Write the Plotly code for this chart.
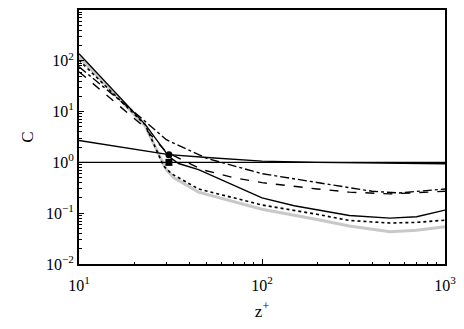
import plotly.graph_objects as go

# ---- data ----
z_flat = [10, 1000]
c_flat = [1.0, 1.0]

z_near1 = [10, 31, 50, 100, 200, 500, 1000]
c_near1 = [2.7, 1.42, 1.25, 1.06, 1.0, 0.96, 0.94]

z_solid = [10, 23, 31, 35, 45, 60, 100, 150, 200, 300, 500, 700, 1000]
c_solid = [138, 5.6, 1.3, 0.95, 0.72, 0.45, 0.2, 0.14, 0.115, 0.09, 0.08, 0.085, 0.115]

z_dot = [10, 23, 29, 32, 45, 70, 100, 200, 300, 500, 700, 1000]
c_dot = [103, 5.5, 0.85, 0.6, 0.3, 0.2, 0.145, 0.095, 0.072, 0.064, 0.066, 0.073]

z_grey = [10, 23, 30, 33, 45, 70, 100, 200, 300, 500, 700, 1000]
c_grey = [120, 5.2, 0.72, 0.5, 0.26, 0.17, 0.12, 0.075, 0.056, 0.043, 0.046, 0.054]

z_dash = [10, 22, 30, 47, 70, 100, 200, 300, 500, 700, 1000]
c_dash = [61, 5.5, 1.6, 0.72, 0.5, 0.4, 0.3, 0.26, 0.24, 0.25, 0.27]

z_dashdot = [10, 21, 30, 50, 100, 200, 400, 560, 1000]
c_dashdot = [76, 8.5, 2.8, 1.2, 0.6, 0.4, 0.27, 0.25, 0.30]

z_markers = [31, 31]
c_markers = [1.42, 1.0]
marker_symbols = ["circle", "square"]

x_tickvals = [10, 100, 1000]
x_ticktext = ["10<sup>1</sup>", "10<sup>2</sup>", "10<sup>3</sup>"]
y_tickvals = [0.01, 0.1, 1, 10, 100, 1000]
y_ticktext = ["10<sup>\u22122</sup>", "10<sup>\u22121</sup>", "10<sup>0</sup>",
              "10<sup>1</sup>", "10<sup>2</sup>", ""]

x_minor = [m * d for d in (10, 100) for m in range(2, 10)]
y_minor = [m * d for d in (0.01, 0.1, 1, 10, 100) for m in range(2, 10)]

SERIF = "Liberation Serif, Times New Roman, serif"

fig = go.Figure()

def add_line(x, y, color="black", width=1.4, dash="solid"):
    fig.add_trace(go.Scatter(x=x, y=y, mode="lines",
                             line=dict(color=color, width=width, dash=dash),
                             showlegend=False, hoverinfo="skip"))

add_line(z_grey, c_grey, color="#c8c8c8", width=3)
add_line(z_flat, c_flat)
add_line(z_near1, c_near1)
add_line(z_solid, c_solid)
add_line(z_dot, c_dot, dash="dot", width=1.6)
add_line(z_dash, c_dash, dash="dash")
add_line(z_dashdot, c_dashdot, dash="dashdot")

fig.add_trace(go.Scatter(x=z_markers, y=c_markers, mode="markers",
                         marker=dict(color="black", size=7, symbol=marker_symbols),
                         showlegend=False, hoverinfo="skip"))

axis_common = dict(
    showline=True, linecolor="black", linewidth=2, mirror=True,
    ticks="inside", ticklen=5, tickcolor="black", tickwidth=1,
    showgrid=False, zeroline=False,
    ticklabeloverflow="allow",
    tickfont=dict(family=SERIF, size=16, color="black"),
)

fig.update_xaxes(type="log", range=[1, 3], tickmode="array",
                 tickvals=x_tickvals, ticktext=x_ticktext,
                 ticklabelstandoff=6,
                 minor=dict(tickmode="array", tickvals=x_minor, ticks="inside",
                            ticklen=2.5, tickcolor="black", showgrid=False),
                 title=dict(text="z<sup>+</sup>", font=dict(family=SERIF, size=17, color="black"),
                            standoff=12),
                 **axis_common)
fig.update_yaxes(type="log", range=[-2, 3], tickmode="array",
                 tickvals=y_tickvals, ticktext=y_ticktext,
                 minor=dict(tickmode="array", tickvals=y_minor, ticks="inside",
                            ticklen=2.5, tickcolor="black", showgrid=False),
                 title=dict(text="C", font=dict(family=SERIF, size=17, color="black"),
                            standoff=8),
                 **axis_common)

fig.update_layout(
    width=464, height=329,
    margin=dict(l=79, r=18, t=8, b=65),
    paper_bgcolor="white", plot_bgcolor="white",
    font=dict(family=SERIF, color="black"),
)

fig.write_html("out.html",
               config={"displayModeBar": False, "staticPlot": True},
               post_script="document.body.style.margin='0';document.body.style.overflow='hidden';")
